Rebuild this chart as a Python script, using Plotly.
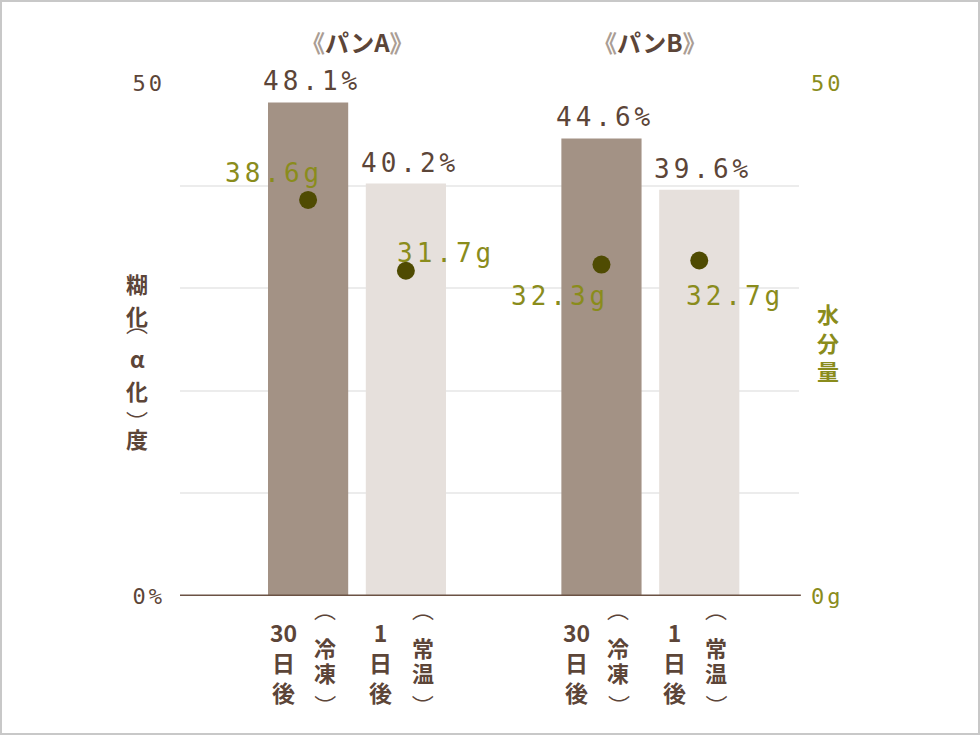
import plotly.graph_objects as go

# パンごとの 糊化（α化）度 と 水分量
groups = ['パンA', 'パンB']
periods = ['30日後', '1日後']
storage = ['冷凍', '常温']
gelatinization = [48.1, 40.2, 44.6, 39.6]   # %
moisture = [38.6, 31.7, 32.3, 32.7]         # g
y_ticks = [0, 10, 20, 30, 40, 50]

BROWN = '#5c4538'
BRACKET = '#aa9d94'
BAR_DARK = '#a39285'
BAR_LIGHT = '#e6e0dc'
OLIVE = '#8a8c1c'
DOT = '#4f4b02'
GRID = '#ececec'
NUM_FONT = 'DejaVu Sans Mono, Noto Sans CJK JP'
JP_FONT = 'Noto Sans CJK JP'

# plot area in pixels
L, R, T, B = 180, 181, 83, 139
W, H = 980, 735
PW, PH = W - L - R, H - T - B


def px(x):
    return (x - L) / PW


def py(y):
    return (H - B - y) / PH


# 0,1 | 3,4  (one empty slot between groups)
pos = [g * 3 + i for g in range(len(groups)) for i in range(len(periods))]
bar_colors = [BAR_DARK, BAR_LIGHT] * len(groups)
# pixel offsets for the g labels around each dot (style only)
gram_shift = [(-34, 27), (40, 18), (-41, -31), (36, -35)]


def spaced(s, n=4):
    return f'<span style="letter-spacing:{n}px">{s}</span>'


def split_period(s):
    digits = ''.join(c for c in s if c.isdigit())
    return [digits] + [c for c in s if not c.isdigit()]


def jp(text, x, y, xref='paper', xshift=0, size=22, color=BROWN, angle=0):
    return dict(x=x, y=y, xref=xref, yref='paper', text=text, showarrow=False,
                xanchor='center', yanchor='middle', xshift=xshift, textangle=angle,
                font=dict(family=JP_FONT, size=size, color=color, weight='bold'))


def arc(x, y, top, xref='paper', xshift=0):
    # vertical-writing brackets: an arc on top, the same arc turned over below
    a = jp('⌒', x, y, xref=xref, xshift=xshift, angle=0 if top else 180)
    a['font'] = dict(family=JP_FONT, size=22, color=BROWN)
    return a


fig = go.Figure()
fig.add_trace(go.Bar(
    x=pos, y=gelatinization, width=0.82,
    marker=dict(color=bar_colors, line=dict(width=0)),
    showlegend=False, hoverinfo='skip',
))
fig.add_trace(go.Scatter(
    x=pos, y=moisture, yaxis='y2', mode='markers',
    marker=dict(size=18, color=DOT),
    showlegend=False, hoverinfo='skip',
))

ann = []
for p, v in zip(pos, gelatinization):
    ann.append(dict(x=p, y=v, xref='x', yref='y', text=spaced(f'{v}%'),
                    showarrow=False, xanchor='center', yanchor='bottom',
                    yshift=4, xshift=4,
                    font=dict(family=NUM_FONT, size=26, color=BROWN)))
for p, v, (dx, dy) in zip(pos, moisture, gram_shift):
    ann.append(dict(x=p, y=v, xref='x', yref='y2', text=spaced(f'{v}g'),
                    showarrow=False, xanchor='center', xshift=dx, yshift=dy,
                    font=dict(family=NUM_FONT, size=26, color=OLIVE)))

for g, name in enumerate(groups):
    mid = sum(pos[g * 2:g * 2 + 2]) / 2
    ann.append(jp(f'<span style="color:{BRACKET}">《</span>{name}'
                  f'<span style="color:{BRACKET}">》</span>',
                  mid, py(42), xref='x', size=24))

# vertical category labels: period column + (storage) column
for i, p in enumerate(pos):
    k = i % len(periods)
    ann.append(jp('<br>'.join(split_period(periods[k])), p, py(662),
                  xref='x', xshift=-25, size=23))
    ann.append(arc(p, py(623), True, xref='x', xshift=17))
    for ch, y in zip(storage[k], [647, 672]):
        ann.append(jp(ch, p, py(y), xref='x', xshift=17))
    ann.append(arc(p, py(693), False, xref='x', xshift=17))

# left title 糊化（α化）度
for ch, y in zip(['糊', '化', 'α', '化', '度'], [283, 315, 358, 390, 438]):
    ann.append(jp(ch, px(137), py(y)))
ann.append(arc(px(137), py(337), True))
ann.append(arc(px(137), py(409), False))
# right title 水分量
ann.append(jp('水<br>分<br>量', px(828), py(341), color=OLIVE))

fig.update_layout(
    width=W, height=H,
    margin=dict(l=L, r=R, t=T, b=B),
    plot_bgcolor='white', paper_bgcolor='white',
    annotations=ann,
    xaxis=dict(range=[-1.31, 5.02], showticklabels=False, showgrid=False,
               zeroline=False, fixedrange=True),
    yaxis=dict(range=[0, 50], tickvals=y_ticks,
               ticktext=[spaced('0%', 3)] + [''] * (len(y_ticks) - 2) + [spaced('50', 3)],
               showgrid=True, gridcolor=GRID, gridwidth=2, zeroline=False,
               ticks='', ticklabelstandoff=14,
               tickfont=dict(family=NUM_FONT, size=22, color=BROWN)),
    yaxis2=dict(range=[0, 50], overlaying='y', side='right',
                tickvals=[0, 50], ticktext=[spaced('0g', 3), spaced('50', 3)],
                showgrid=False, zeroline=False, ticks='', ticklabelstandoff=11,
                tickfont=dict(family=NUM_FONT, size=22, color=OLIVE)),
    shapes=[
        dict(type='line', xref='paper', yref='y', x0=0, x1=1.003, y0=0, y1=0,
             line=dict(color='#6b5244', width=3), layer='above'),
        dict(type='rect', xref='paper', yref='paper',
             x0=px(1), x1=px(W - 1), y0=py(H - 1), y1=py(1),
             line=dict(color='#c8c8c8', width=2)),
    ],
)

fig.write_html('out.html', config={'displayModeBar': False},
               post_script="document.body.style.margin='0';")
